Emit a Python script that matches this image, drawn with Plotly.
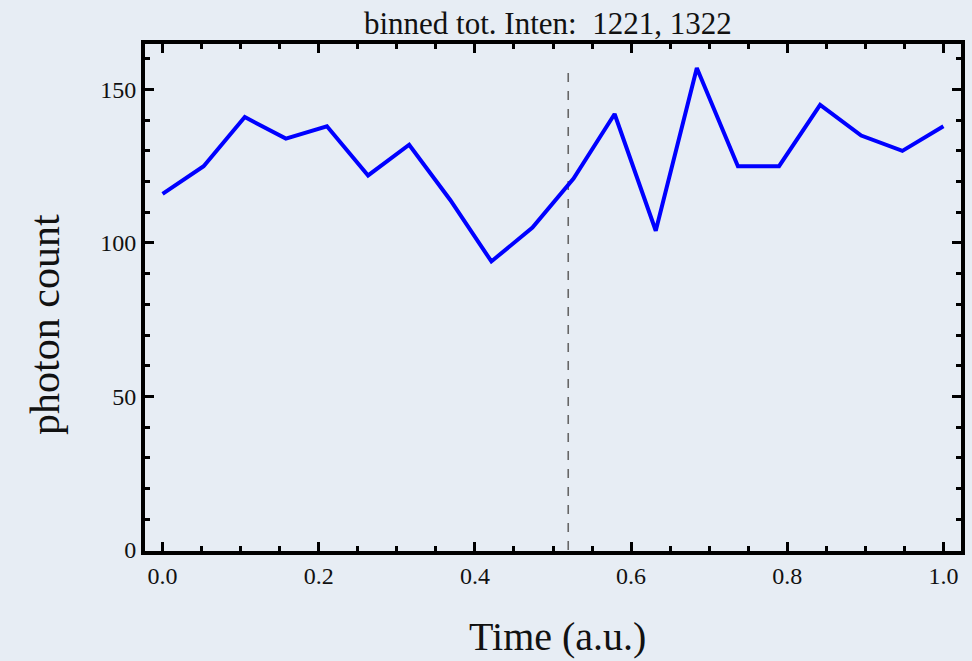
import plotly.graph_objects as go

# Data
time = [0.0, 0.0526, 0.1053, 0.1579, 0.2105, 0.2632, 0.3158, 0.3684, 0.4211, 0.4737,
        0.5263, 0.5789, 0.6316, 0.6842, 0.7368, 0.7895, 0.8421, 0.8947, 0.9474, 1.0]
counts = [116, 125, 141, 134, 138, 122, 132, 114, 94, 105,
          121, 142, 104, 157, 125, 125, 145, 135, 130, 138]
split_x = [0.5195, 0.5195]
split_y = [0, 156]
x_ticks = [0.0, 0.2, 0.4, 0.6, 0.8, 1.0]
x_ticklabels = ["0.0", "0.2", "0.4", "0.6", "0.8", "1.0"]
y_ticks = [0, 50, 100, 150]
y_ticklabels = ["0", "50", "100", "150"]
title_text = "binned tot. Inten:&nbsp; 1221, 1322"

BG = "#e7edf4"
SERIF = "Liberation Serif, Times New Roman, serif"

fig = go.Figure()
fig.add_trace(go.Scatter(x=split_x, y=split_y, mode="lines",
                         line=dict(color="#666666", width=1.6, dash="dash"),
                         hoverinfo="skip", showlegend=False))
fig.add_trace(go.Scatter(x=time, y=counts, mode="lines",
                         line=dict(color="#0000ff", width=4),
                         showlegend=False))

axis_common = dict(showgrid=False, zeroline=False, showline=True, linecolor="black",
                   linewidth=4, mirror="allticks", ticks="inside",
                   tickcolor="black", tickwidth=3, ticklen=9,
                   tickfont=dict(family=SERIF, size=24, color="#111111"))

fig.update_xaxes(range=[-0.0225, 1.0225], tickvals=x_ticks, ticktext=x_ticklabels,
                 minor=dict(dtick=0.05, ticks="inside", ticklen=5, tickwidth=2.5,
                            tickcolor="black", showgrid=False),
                 **axis_common)
fig.update_yaxes(range=[-0.3, 164.8], tickvals=y_ticks, ticktext=y_ticklabels,
                 minor=dict(dtick=10, ticks="inside", ticklen=5, tickwidth=2.5,
                            tickcolor="black", showgrid=False),
                 **axis_common)

fig.add_annotation(text=title_text, xref="paper", yref="paper", x=0.494, y=1.0,
                   yshift=21, xanchor="center", yanchor="middle", showarrow=False,
                   font=dict(family=SERIF, size=31, color="#111111"))
fig.add_annotation(text="Time (a.u.)", xref="paper", yref="paper", x=0.506, y=0,
                   yshift=-85, xanchor="center", yanchor="middle", showarrow=False,
                   font=dict(family=SERIF, size=40, color="#111111"))
fig.add_annotation(text="photon count", xref="paper", yref="paper", x=0, y=0.446,
                   xshift=-100, xanchor="center", yanchor="middle", showarrow=False,
                   textangle=-90,
                   font=dict(family=SERIF, size=42, color="#111111"))

fig.update_layout(width=972, height=661, paper_bgcolor=BG, plot_bgcolor=BG,
                  margin=dict(l=145, r=7, t=44, b=110), showlegend=False)

fig.write_html("out.html")
